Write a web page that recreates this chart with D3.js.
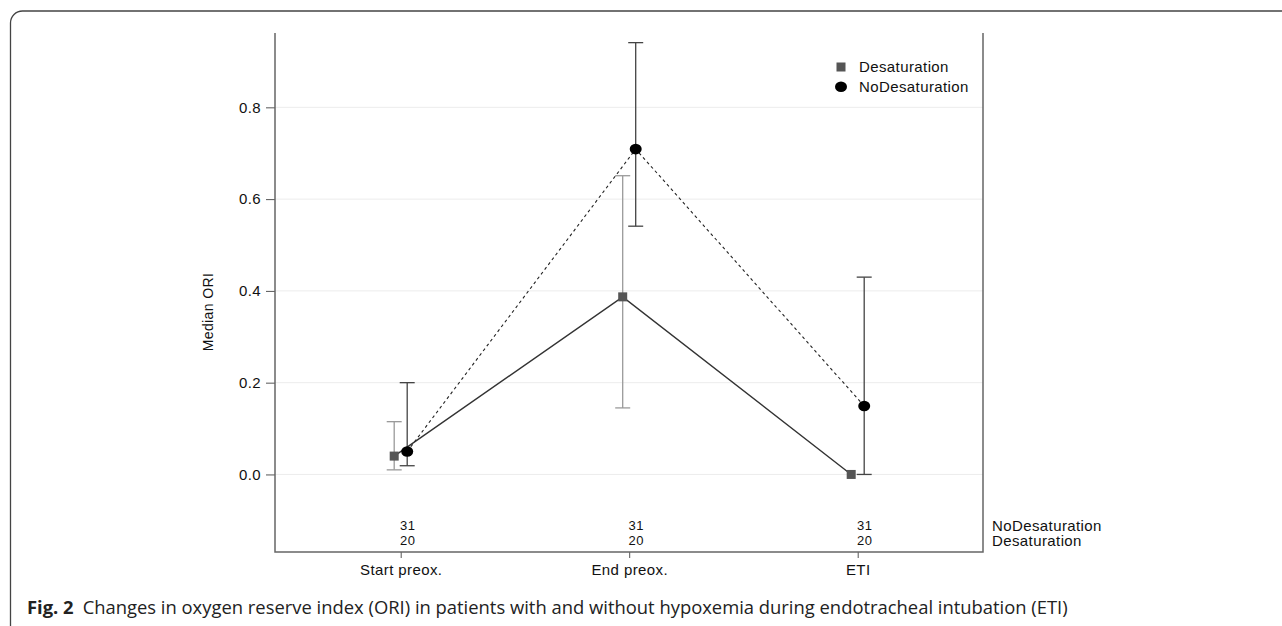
<!DOCTYPE html>
<html>
<head>
<meta charset="utf-8">
<script src="https://cdn.jsdelivr.net/npm/d3@7"></script>
<style>
  body { margin: 0; background: #fff; }
  .chart-text { font-family: "Liberation Sans", Arial, sans-serif; letter-spacing: 0.4px; }
  .caption { font-family: "Open Sans", "Noto Sans", sans-serif; }
</style>
</head>
<body>
<svg id="chart" width="1282" height="626"></svg>
<script>
// data
const phases = ["Start preox.", "End preox.", "ETI"];
const desMedian = [0.04, 0.387, 0.0];
const desLow = [0.01, 0.145, 0.0];
const desHigh = [0.115, 0.651, 0.0];
const noDesMedian = [0.05, 0.709, 0.149];
const noDesLow = [0.019, 0.541, 0.0];
const noDesHigh = [0.2, 0.941, 0.43];
const nNoDes = [31, 31, 31];
const nDes = [20, 20, 20];
const yTicks = [0.0, 0.2, 0.4, 0.6, 0.8];

const svg = d3.select('#chart');

// outer panel frame
svg.append('rect')
  .attr('x', 10.5).attr('y', 11).attr('width', 1300).attr('height', 640)
  .attr('rx', 12).attr('fill', 'none').attr('stroke', '#444').attr('stroke-width', 1.3);

const plotLeft = 275, plotRight = 983, plotTop = 33, plotBottom = 552;

const y = d3.scaleLinear().domain([-0.169, 0.962]).range([plotBottom, plotTop]);
const x = d3.scalePoint().domain(phases).range([400.7, 857.7]);
const off = 6.5;

// gridlines
svg.append('g').selectAll('line').data(yTicks).enter().append('line')
  .attr('x1', plotLeft).attr('x2', plotRight)
  .attr('y1', d => y(d)).attr('y2', d => y(d))
  .attr('stroke', '#ececec').attr('stroke-width', 1);

// y axis
const yAxis = svg.append('g')
  .attr('transform', `translate(${plotLeft},0)`)
  .call(d3.axisLeft(y).tickValues(yTicks).tickFormat(d3.format('.1f')).tickSize(9).tickPadding(5));
yAxis.select('.domain').remove();
yAxis.selectAll('line').attr('stroke', '#555');
yAxis.selectAll('text').attr('class', 'chart-text').attr('font-size', 15).attr('fill', '#111');

// x axis
const xAxis = svg.append('g')
  .attr('transform', `translate(0,${plotBottom})`)
  .call(d3.axisBottom(x).tickSize(6).tickPadding(6));
xAxis.select('.domain').remove();
xAxis.selectAll('line').attr('stroke', '#555');
xAxis.selectAll('text').attr('class', 'chart-text').attr('font-size', 15).attr('fill', '#111');

// frame: left, bottom, right
svg.append('path')
  .attr('d', `M${plotLeft},${plotTop}V${plotBottom}H${plotRight}V${plotTop}`)
  .attr('fill', 'none').attr('stroke', '#666').attr('stroke-width', 1.5);

// y label
svg.append('text')
  .attr('class', 'chart-text')
  .attr('transform', `translate(213,312) rotate(-90)`)
  .attr('text-anchor', 'middle')
  .attr('font-size', 14).attr('fill', '#111')
  .text('Median ORI');

// error bars
function errorBars(low, high, dx, color) {
  const g = svg.append('g').attr('stroke', color).attr('stroke-width', 1.3);
  phases.forEach((p, i) => {
    if (high[i] === low[i]) return;
    const cx = x(p) + dx;
    g.append('line').attr('x1', cx).attr('x2', cx).attr('y1', y(low[i])).attr('y2', y(high[i]));
    g.append('line').attr('x1', cx - 7.5).attr('x2', cx + 7.5).attr('y1', y(low[i])).attr('y2', y(low[i]));
    g.append('line').attr('x1', cx - 7.5).attr('x2', cx + 7.5).attr('y1', y(high[i])).attr('y2', y(high[i]));
  });
}
errorBars(desLow, desHigh, -off, '#9a9a9a');
errorBars(noDesLow, noDesHigh, off, '#444');

// lines
const lineDes = d3.line().x((d, i) => x(phases[i]) - off).y(d => y(d));
const lineNoDes = d3.line().x((d, i) => x(phases[i]) + off).y(d => y(d));
svg.append('path').attr('d', lineNoDes(noDesMedian))
  .attr('fill', 'none').attr('stroke', '#222').attr('stroke-width', 1.1).attr('stroke-dasharray', '3,3');
svg.append('path').attr('d', lineDes(desMedian))
  .attr('fill', 'none').attr('stroke', '#333').attr('stroke-width', 1.4);

// markers
svg.append('g').selectAll('rect').data(desMedian).enter().append('rect')
  .attr('x', (d, i) => x(phases[i]) - off - 4.5)
  .attr('y', d => y(d) - 4.5)
  .attr('width', 9).attr('height', 9)
  .attr('fill', '#555');
svg.append('g').selectAll('ellipse').data(noDesMedian).enter().append('ellipse')
  .attr('cx', (d, i) => x(phases[i]) + off)
  .attr('cy', d => y(d))
  .attr('rx', 6).attr('ry', 5.3)
  .attr('fill', '#000');

// counts
svg.append('g').selectAll('text').data(nNoDes).enter().append('text')
  .attr('class', 'chart-text')
  .attr('x', (d, i) => x(phases[i]) + 7).attr('y', 530)
  .attr('text-anchor', 'middle').attr('font-size', 13).attr('fill', '#111')
  .text(d => d);
svg.append('g').selectAll('text').data(nDes).enter().append('text')
  .attr('class', 'chart-text')
  .attr('x', (d, i) => x(phases[i]) + 7).attr('y', 545)
  .attr('text-anchor', 'middle').attr('font-size', 13).attr('fill', '#111')
  .text(d => d);
svg.append('text').attr('class', 'chart-text').attr('x', 992).attr('y', 531)
  .attr('font-size', 15).attr('fill', '#111').text('NoDesaturation');
svg.append('text').attr('class', 'chart-text').attr('x', 992).attr('y', 546)
  .attr('font-size', 15).attr('fill', '#111').text('Desaturation');

// legend
const legend = svg.append('g');
legend.append('rect').attr('x', 836.5).attr('y', 62.5).attr('width', 9).attr('height', 9).attr('fill', '#555');
legend.append('text').attr('class', 'chart-text').attr('x', 859).attr('y', 72)
  .attr('font-size', 15).attr('fill', '#111').text('Desaturation');
legend.append('ellipse').attr('cx', 841).attr('cy', 86.7).attr('rx', 6).attr('ry', 5.3).attr('fill', '#000');
legend.append('text').attr('class', 'chart-text').attr('x', 859).attr('y', 92)
  .attr('font-size', 15).attr('fill', '#111').text('NoDesaturation');

// caption
const cap = svg.append('text').attr('class', 'caption').attr('x', 27).attr('y', 614)
  .attr('font-size', 18.4).attr('fill', '#222');
cap.append('tspan').attr('font-weight', 'bold').text('Fig. 2');
cap.append('tspan').attr('dx', 9).text('Changes in oxygen reserve index (ORI) in patients with and without hypoxemia during endotracheal intubation (ETI)');
</script>
</body>
</html>
